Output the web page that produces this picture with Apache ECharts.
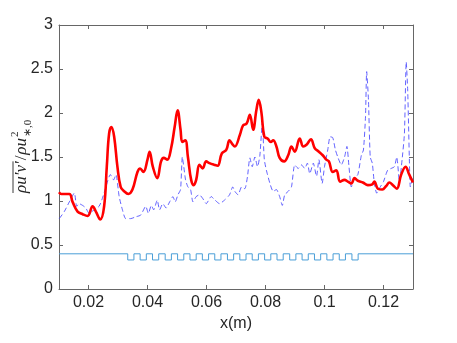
<!DOCTYPE html>
<html>
<head>
<meta charset="utf-8">
<script src="https://cdn.jsdelivr.net/npm/echarts@6/dist/echarts.min.js"></script>
<style>
html, body { margin: 0; padding: 0; background: #fff; }
#chart { width: 457px; height: 343px; }
</style>
</head>
<body>
<div id="chart"></div>
<script>
// 刻度
const xTicks = [0.02, 0.04, 0.06, 0.08, 0.1, 0.12]
const yTicks = [0, 0.5, 1, 1.5, 2, 2.5, 3]

// 红色粗线
const redX = [0.0100, 0.0108, 0.0135, 0.0146, 0.0163, 0.0180, 0.0197, 0.0214, 0.0225, 0.0240,
	0.0253, 0.0262, 0.0270, 0.0278, 0.0287, 0.0298, 0.0309, 0.0321, 0.0335, 0.0349,
	0.0366, 0.0375, 0.0386, 0.0400, 0.0407, 0.0418, 0.0433, 0.0446, 0.0455, 0.0467,
	0.0480, 0.0492, 0.0502, 0.0512, 0.0518, 0.0528, 0.0537, 0.0548, 0.0557, 0.0565,
	0.0576, 0.0587, 0.0599, 0.0610, 0.0627, 0.0638, 0.0652, 0.0667, 0.0678, 0.0689,
	0.0696, 0.0713, 0.0724, 0.0736, 0.0747, 0.0758, 0.0769, 0.0777, 0.0786, 0.0796,
	0.0807, 0.0818, 0.0826, 0.0837, 0.0848, 0.0863, 0.0877, 0.0888, 0.0899, 0.0916,
	0.0928, 0.0939, 0.0954, 0.0967, 0.0981, 0.0994, 0.1006, 0.1015, 0.1028, 0.1040,
	0.1053, 0.1068, 0.1079, 0.1091, 0.1102, 0.1113, 0.1130, 0.1147, 0.1162, 0.1169,
	0.1181, 0.1196, 0.1209, 0.1220, 0.1232, 0.1245, 0.1260, 0.1275, 0.1286, 0.1300]
const redY = [1.10, 1.08, 1.08, 0.99, 0.88, 0.85, 0.83, 0.94, 0.88, 0.79,
	0.94, 1.39, 1.77, 1.84, 1.73, 1.39, 1.16, 1.11, 1.08, 1.13,
	1.33, 1.37, 1.33, 1.47, 1.56, 1.39, 1.26, 1.45, 1.49, 1.47,
	1.60, 1.84, 2.03, 1.81, 1.67, 1.69, 1.50, 1.24, 1.18, 1.24,
	1.41, 1.37, 1.45, 1.43, 1.41, 1.40, 1.54, 1.58, 1.69, 1.64,
	1.62, 1.75, 1.86, 1.88, 1.98, 1.81, 2.03, 2.15, 2.01, 1.73,
	1.71, 1.67, 1.69, 1.62, 1.49, 1.45, 1.52, 1.62, 1.56, 1.71,
	1.62, 1.64, 1.70, 1.60, 1.56, 1.52, 1.47, 1.45, 1.33, 1.35,
	1.22, 1.24, 1.22, 1.20, 1.26, 1.23, 1.21, 1.18, 1.19, 1.22,
	1.14, 1.13, 1.17, 1.21, 1.18, 1.14, 1.30, 1.39, 1.31, 1.21]

// 蓝色虚线
const blueX = [0.0101, 0.0118, 0.0135, 0.0152, 0.0160, 0.0168, 0.0180, 0.0191, 0.0202, 0.0219,
	0.0236, 0.0247, 0.0259, 0.0274, 0.0285, 0.0293, 0.0304, 0.0315, 0.0326, 0.0343,
	0.0360, 0.0377, 0.0394, 0.0403, 0.0413, 0.0421, 0.0433, 0.0441, 0.0452, 0.0463,
	0.0475, 0.0486, 0.0494, 0.0503, 0.0512, 0.0518, 0.0523, 0.0529, 0.0537, 0.0546,
	0.0554, 0.0565, 0.0576, 0.0587, 0.0599, 0.0616, 0.0629, 0.0644, 0.0661, 0.0678,
	0.0689, 0.0696, 0.0707, 0.0719, 0.0730, 0.0739, 0.0747, 0.0755, 0.0764, 0.0773,
	0.0781, 0.0789, 0.0796, 0.0803, 0.0815, 0.0826, 0.0837, 0.0848, 0.0857, 0.0865,
	0.0877, 0.0888, 0.0899, 0.0911, 0.0922, 0.0933, 0.0942, 0.0950, 0.0962, 0.0973,
	0.0981, 0.0992, 0.1000, 0.1011, 0.1019, 0.1028, 0.1037, 0.1045, 0.1057, 0.1068,
	0.1076, 0.1083, 0.1091, 0.1102, 0.1113, 0.1125, 0.1132, 0.1139, 0.1143, 0.1149,
	0.1155, 0.1162, 0.1169, 0.1177, 0.1189, 0.1200, 0.1214, 0.1226, 0.1237, 0.1245,
	0.1254, 0.1263, 0.1271, 0.1277, 0.1282, 0.1288, 0.1291, 0.1299]
const blueY = [0.80, 0.88, 0.99, 1.09, 0.94, 0.97, 0.95, 0.92, 0.86, 0.90,
	0.94, 1.03, 1.16, 1.30, 1.24, 1.30, 1.05, 0.90, 0.80, 0.80,
	0.82, 0.84, 0.94, 0.86, 0.95, 0.90, 1.01, 0.90, 0.97, 0.92,
	0.99, 1.05, 0.99, 1.07, 1.13, 1.50, 1.39, 1.24, 1.16, 1.13,
	0.99, 1.05, 1.07, 1.03, 0.97, 1.05, 1.01, 0.97, 1.01, 1.07,
	1.16, 1.11, 1.07, 1.16, 1.14, 1.28, 1.49, 1.39, 1.50, 1.39,
	1.52, 1.88, 1.47, 1.35, 1.20, 1.11, 1.13, 1.05, 0.95, 1.07,
	1.11, 1.16, 1.41, 1.37, 1.41, 1.37, 1.43, 1.31, 1.43, 1.28,
	1.47, 1.20, 1.39, 1.58, 1.73, 1.72, 1.58, 1.50, 1.41, 1.50,
	1.62, 1.39, 1.16, 1.26, 1.30, 1.52, 1.58, 1.96, 2.47, 2.15,
	1.50, 1.43, 1.20, 1.09, 1.16, 1.22, 1.35, 1.37, 1.39, 1.50,
	1.22, 1.47, 1.77, 2.58, 2.26, 1.43, 1.16, 1.28]

// 方波(台阶)
const stepX = [0.0100, 0.0333, 0.0354, 0.0375, 0.0396, 0.0417, 0.0438, 0.0460, 0.0481, 0.0502,
	0.0523, 0.0544, 0.0565, 0.0586, 0.0607, 0.0628, 0.0649, 0.0671, 0.0692, 0.0713,
	0.0734, 0.0755, 0.0776, 0.0797, 0.0818, 0.0839, 0.0860, 0.0882, 0.0903, 0.0924,
	0.0945, 0.0966, 0.0987, 0.1008, 0.1029, 0.1050, 0.1071, 0.1093, 0.1114, 0.1300]
const stepY = [0.40, 0.33, 0.40, 0.33, 0.40, 0.33, 0.40, 0.33, 0.40, 0.33,
	0.40, 0.33, 0.40, 0.33, 0.40, 0.33, 0.40, 0.33, 0.40, 0.33,
	0.40, 0.33, 0.40, 0.33, 0.40, 0.33, 0.40, 0.33, 0.40, 0.33,
	0.40, 0.33, 0.40, 0.33, 0.40, 0.33, 0.40, 0.33, 0.40, 0.40]

const zip = (xs, ys) => xs.map((x, i) => [x, ys[i]])

const AXIS_COLOR = '#666666'
const LABEL_COLOR = '#262626'
const LABEL_FONT = 'Liberation Sans'

// y轴名称 (旋转的公式文本)
const measure = document.createElement('canvas').getContext('2d')
function textW(str, font) {
	measure.font = font
	return measure.measureText(str).width
}
const fMain = 'italic 17px "Liberation Serif"'
const fUp = '17px "Liberation Serif"'
const fSmall = '11px "Liberation Serif"'
const s1 = 'ρu′v′'
const w1 = textW(s1, fMain)
const x2 = w1 + 1
const w2 = textW('/', fUp)
const x3 = x2 + w2 + 1
const w3 = textW('ρu', fMain)
const x4 = x3 + w3 + 1

const myChart = echarts.init(document.getElementById('chart'))
const option = {
	animation: false,
	backgroundColor: '#fff',
	grid: { left: 59, right: 44, top: 25, bottom: 54 },
	xAxis: [
		{
			type: 'value',
			min: 0.01,
			max: 0.13,
			interval: 0.01,
			name: 'x(m)',
			nameLocation: 'middle',
			nameGap: 22,
			nameTextStyle: { color: LABEL_COLOR, fontSize: 16, fontFamily: LABEL_FONT },
			axisLine: { lineStyle: { color: AXIS_COLOR } },
			axisTick: { inside: true, length: 4, customValues: xTicks, lineStyle: { color: AXIS_COLOR } },
			axisLabel: {
				customValues: xTicks,
				color: LABEL_COLOR,
				fontSize: 16,
				fontFamily: LABEL_FONT,
				margin: 6,
				formatter: (v) => String(+v.toFixed(2)),
			},
			splitLine: { show: false },
		},
		{
			type: 'value',
			position: 'top',
			min: 0.01,
			max: 0.13,
			interval: 0.01,
			axisLine: { onZero: false, lineStyle: { color: AXIS_COLOR } },
			axisTick: { inside: true, length: 4, customValues: xTicks, lineStyle: { color: AXIS_COLOR } },
			axisLabel: { show: false },
			splitLine: { show: false },
		},
	],
	yAxis: [
		{
			type: 'value',
			min: 0,
			max: 3,
			interval: 0.5,
			axisLine: { show: true, lineStyle: { color: AXIS_COLOR } },
			axisTick: { show: true, inside: true, length: 4, lineStyle: { color: AXIS_COLOR } },
			axisLabel: { color: LABEL_COLOR, fontSize: 16, fontFamily: LABEL_FONT, margin: 6 },
			splitLine: { show: false },
		},
		{
			type: 'value',
			position: 'right',
			min: 0,
			max: 3,
			interval: 0.5,
			axisLine: { show: true, onZero: false, lineStyle: { color: AXIS_COLOR } },
			axisTick: { show: true, inside: true, length: 4, lineStyle: { color: AXIS_COLOR } },
			axisLabel: { show: false },
			splitLine: { show: false },
		},
	],
	graphic: [
		{
			type: 'group',
			x: 22,
			y: 193,
			rotation: Math.PI / 2,
			children: [
				{ type: 'text', style: { text: s1, x: 0, y: 0, font: fMain, fill: LABEL_COLOR, verticalAlign: 'middle' } },
				{ type: 'line', shape: { x1: 0, y1: -9, x2: w1, y2: -9 }, style: { stroke: LABEL_COLOR, lineWidth: 0.9 } },
				{ type: 'text', style: { text: '/', x: x2, y: 0, font: fUp, fill: LABEL_COLOR, verticalAlign: 'middle' } },
				{ type: 'text', style: { text: 'ρu', x: x3, y: 0, font: fMain, fill: LABEL_COLOR, verticalAlign: 'middle' } },
				{ type: 'text', style: { text: '2', x: x4, y: -7, font: fSmall, fill: LABEL_COLOR, verticalAlign: 'middle' } },
				{ type: 'text', style: { text: '∗,0', x: x4, y: 6, font: fSmall, fill: LABEL_COLOR, verticalAlign: 'middle' } },
			],
		},
	],
	series: [
		{
			name: 'step',
			type: 'line',
			step: 'end',
			data: zip(stepX, stepY),
			showSymbol: false,
			lineStyle: { color: '#4a9fd8', width: 1 },
		},
		{
			name: 'blue',
			type: 'line',
			data: zip(blueX, blueY),
			showSymbol: false,
			smooth: 0.2,
			lineStyle: { color: '#3b3bff', width: 0.8, type: [5, 3] },
		},
		{
			name: 'red',
			type: 'line',
			data: zip(redX, redY),
			showSymbol: false,
			smooth: 0.4,
			lineStyle: { color: '#ff0000', width: 2.6 },
		},
	],
}
myChart.setOption(option)
</script>
</body>
</html>
